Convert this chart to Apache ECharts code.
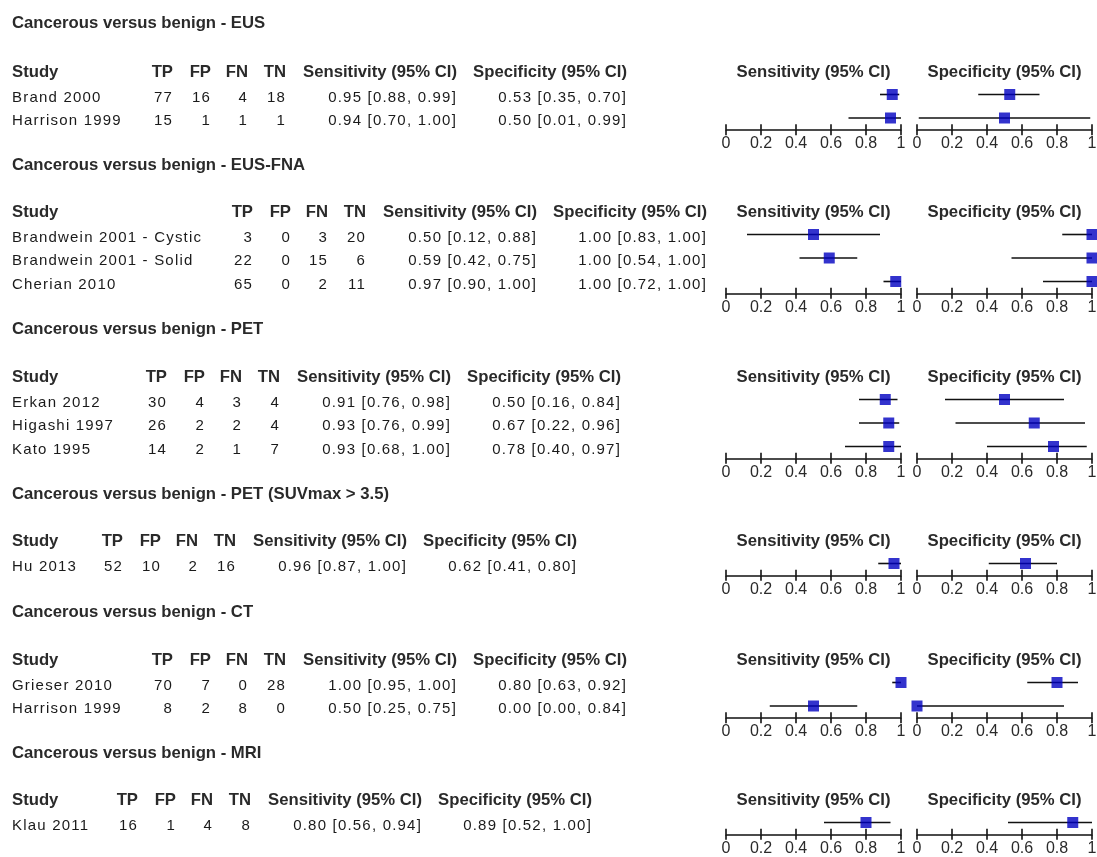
<!DOCTYPE html>
<html><head><meta charset="utf-8">
<script src="https://cdn.jsdelivr.net/npm/echarts@6.0.0/dist/echarts.min.js"></script>
<style>html,body{margin:0;padding:0;background:#fff}#c{width:1097px;height:857px}</style>
</head><body><div id="c"></div>
<script>
// ---------- data ----------
const titles = ['Cancerous versus benign - EUS', 'Cancerous versus benign - EUS-FNA', 'Cancerous versus benign - PET',
  'Cancerous versus benign - PET (SUVmax > 3.5)', 'Cancerous versus benign - CT', 'Cancerous versus benign - MRI'];
const studies = [['Brand 2000', 'Harrison 1999'], ['Brandwein 2001 - Cystic', 'Brandwein 2001 - Solid', 'Cherian 2010'],
  ['Erkan 2012', 'Higashi 1997', 'Kato 1995'], ['Hu 2013'], ['Grieser 2010', 'Harrison 1999'], ['Klau 2011']];
const TP = [[77, 15], [3, 22, 65], [30, 26, 14], [52], [70, 8], [16]];
const FP = [[16, 1], [0, 0, 0], [4, 2, 2], [10], [7, 2], [1]];
const FN = [[4, 1], [3, 15, 2], [3, 2, 1], [2], [0, 8], [4]];
const TN = [[18, 1], [20, 6, 11], [4, 4, 7], [16], [28, 0], [8]];
const sens = [[0.95, 0.94], [0.50, 0.59, 0.97], [0.91, 0.93, 0.93], [0.96], [1.00, 0.50], [0.80]];
const sensLo = [[0.88, 0.70], [0.12, 0.42, 0.90], [0.76, 0.76, 0.68], [0.87], [0.95, 0.25], [0.56]];
const sensHi = [[0.99, 1.00], [0.88, 0.75, 1.00], [0.98, 0.99, 1.00], [1.00], [1.00, 0.75], [0.94]];
const spec = [[0.53, 0.50], [1.00, 1.00, 1.00], [0.50, 0.67, 0.78], [0.62], [0.80, 0.00], [0.89]];
const specLo = [[0.35, 0.01], [0.83, 0.54, 0.72], [0.16, 0.22, 0.40], [0.41], [0.63, 0.00], [0.52]];
const specHi = [[0.70, 0.99], [1.00, 1.00, 1.00], [0.84, 0.96, 0.97], [0.80], [0.92, 0.84], [1.00]];
const tickLabels = ['0', '0.2', '0.4', '0.6', '0.8', '1'];
const colHeaders = ['Study', 'TP', 'FP', 'FN', 'TN', 'Sensitivity (95% CI)', 'Specificity (95% CI)'];
const plotHeaders = ['Sensitivity (95% CI)', 'Specificity (95% CI)'];

// ---------- layout ----------
const titleY = [23, 165, 329, 494, 612, 753];
const headerY = [72, 212, 377, 541, 660, 800];
const colShift = [0, 80, -6, -50, 0, -35];          // table column offset per section
const baseCols = [173, 211, 248, 286, 457, 627];     // right edges TP, FP, FN, TN, Sens, Spec
const PLOT_X = [726, 917], PW = 175, STEP = 23.5;
const FONT = '"Liberation Sans", Arial, sans-serif';
const TXT = '#1a1a1a', HDR = '#2a2a2a';

// emulate the wider glyph spacing of the original table text (15px regular text only)
(function () {
  const P = CanvasRenderingContext2D.prototype;
  const d = Object.getOwnPropertyDescriptor(P, 'font');
  if (d && d.set && ('letterSpacing' in P)) {
    Object.defineProperty(P, 'font', { configurable: true,
      get() { return d.get.call(this); },
      set(v) { d.set.call(this, v); try { this.letterSpacing = /\b15px\b/.test(v) ? '1.2px' : '0px'; } catch (e) {} } });
  }
})();

const grids = [], xAxes = [], yAxes = [], series = [], graphics = [];
function txt(x, y, t, align, bold, color) {
  graphics.push({ type: 'text', x: x, y: y, silent: true,
    style: { text: t, align: align, verticalAlign: 'middle', font: (bold ? 'bold 16.7px ' : '15px ') + FONT, fill: color || TXT } });
}
const fmt = (v, lo, hi) => v.toFixed(2) + ' [' + lo.toFixed(2) + ', ' + hi.toFixed(2) + ']';

titles.forEach((title, s) => {
  txt(12, titleY[s], title, 'left', true, HDR);
  const hy = headerY[s];
  const rights = baseCols.map(c => c + colShift[s]);
  txt(12, hy, colHeaders[0], 'left', true, HDR);
  for (let c = 1; c < colHeaders.length; c++) txt(rights[c - 1], hy, colHeaders[c], 'right', true, HDR);
  plotHeaders.forEach((h, k) => txt(PLOT_X[k] + PW / 2, hy, h, 'center', true, HDR));
  studies[s].forEach((name, i) => {
    const y = hy + 25.5 + i * STEP;
    txt(12, y, name, 'left', false);
    [TP, FP, FN, TN].forEach((arr, c) => txt(rights[c], y, String(arr[s][i]), 'right', false));
    txt(rights[4], y, fmt(sens[s][i], sensLo[s][i], sensHi[s][i]), 'right', false);
    txt(rights[5], y, fmt(spec[s][i], specLo[s][i], specHi[s][i]), 'right', false);
  });

  const n = studies[s].length;
  [[sens, sensLo, sensHi], [spec, specLo, specHi]].forEach((arr, k) => {
    const g = grids.length;
    grids.push({ left: PLOT_X[k], width: PW, top: hy + 22.5 - STEP / 2, height: n * STEP, outerBoundsMode: 'none', containLabel: false });
    const xi = xAxes.length;
    xAxes.push({ gridIndex: g, type: 'value', min: 0, max: 1, interval: 0.2, position: 'bottom',
      axisLine: { show: true, onZero: false, lineStyle: { color: '#111', width: 1.6 } },
      axisTick: { show: true, inside: false, length: 5.5, lineStyle: { color: '#111', width: 1.6 } },
      axisLabel: { show: true, margin: 6, fontSize: 16, color: '#2a2a2a', fontFamily: FONT,
        formatter: v => tickLabels[Math.round(v / 0.2)] },
      splitLine: { show: false } });
    xAxes.push({ gridIndex: g, type: 'value', min: 0, max: 1, interval: 0.2, position: 'bottom',
      axisLine: { show: false, onZero: false },
      axisTick: { show: true, inside: true, length: 5.5, lineStyle: { color: '#111', width: 1.6 } },
      axisLabel: { show: false }, splitLine: { show: false } });
    const yi = yAxes.length;
    yAxes.push({ gridIndex: g, type: 'category', data: studies[s], inverse: true, show: false, boundaryGap: true });
    const [v, lo, hi] = arr;
    series.push({ type: 'custom', xAxisIndex: xi, yAxisIndex: yi, clip: false, silent: true, z: 2,
      data: studies[s].map((_, i) => [lo[s][i], hi[s][i], i]),
      encode: { x: [0, 1], y: 2 },
      renderItem: (params, api) => {
        const p1 = api.coord([api.value(0), api.value(2)]);
        const p2 = api.coord([api.value(1), api.value(2)]);
        return { type: 'line', shape: { x1: p1[0], y1: p1[1], x2: p2[0], y2: p2[1] }, style: { stroke: '#111', lineWidth: 1.6 } };
      } });
    series.push({ type: 'scatter', xAxisIndex: xi, yAxisIndex: yi, clip: false, silent: true, z: 3,
      symbol: 'rect', symbolSize: 11, itemStyle: { color: '#0000c0' },
      data: studies[s].map((_, i) => [v[s][i], i]) });
  });
});

const chart = echarts.init(document.getElementById('c'), null, { renderer: 'canvas', width: 1097, height: 857 });
chart.setOption({ backgroundColor: '#fff', animation: false, grid: grids, xAxis: xAxes, yAxis: yAxes, series: series, graphic: graphics });
</script></body></html>
